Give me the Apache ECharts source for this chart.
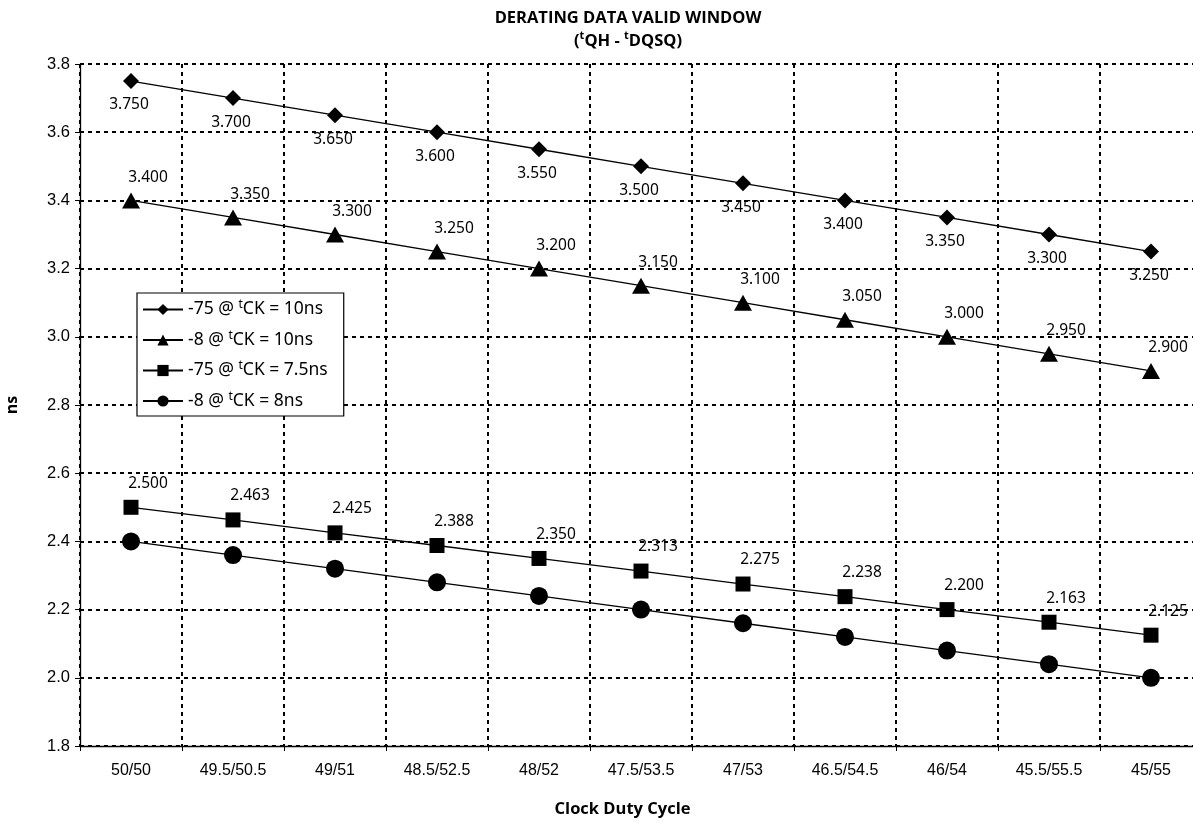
<!DOCTYPE html>
<html>
<head>
<meta charset="utf-8">
<script src="https://cdn.jsdelivr.net/npm/echarts@6/dist/echarts.min.js"></script>
<style>html,body{margin:0;padding:0;background:#fff;}#c{width:1193px;height:823px;}</style>
</head>
<body>
<div id="c"></div>
<script>
const categories = ['50/50','49.5/50.5','49/51','48.5/52.5','48/52','47.5/53.5','47/53','46.5/54.5','46/54','45.5/55.5','45/55'];
const s75_10 = [3.750,3.700,3.650,3.600,3.550,3.500,3.450,3.400,3.350,3.300,3.250];
const s8_10 = [3.400,3.350,3.300,3.250,3.200,3.150,3.100,3.050,3.000,2.950,2.900];
const s75_75 = [2.500,2.463,2.425,2.388,2.350,2.313,2.275,2.238,2.200,2.163,2.125];
const s8_8 = [2.40,2.36,2.32,2.28,2.24,2.20,2.16,2.12,2.08,2.04,2.00];
const seriesNames = ['-75 @ {sup|t}CK = 10ns','-8 @ {sup|t}CK = 10ns','-75 @ {sup|t}CK = 7.5ns','-8 @ {sup|t}CK = 8ns'];

const chart = echarts.init(document.getElementById('c'));
const labelFont = {fontFamily:'Noto Sans', fontSize:15.5, color:'#000'};
function mk(name, data, symbol, size, label) {
  return {
    name, type:'line', data, symbol, symbolSize:size,
    lineStyle:{color:'#000', width:1.3},
    itemStyle:{color:'#000'},
    label: label ? Object.assign({show:true, position:'inside', formatter:p=>p.value.toFixed(3)}, labelFont, label) : {show:false},
    emphasis:{disabled:true}, animation:false, z:3
  };
}
chart.setOption({
  animation:false,
  title:{
    text:'DERATING DATA VALID WINDOW\n({sup|t}QH - {sup|t}DQSQ)',
    left:623, top:2, textAlign:'center',
    textStyle:{fontFamily:'Open Sans', fontWeight:'bold', fontSize:16.5, color:'#000', lineHeight:23,
      rich:{sup:{fontFamily:'Open Sans', fontWeight:'bold', fontSize:11, color:'#000', verticalAlign:'top', lineHeight:23, padding:[0,0,7,0]}}}
  },
  legend:{
    orient:'vertical', left:137, top:293,
    backgroundColor:'#fff', borderColor:'#000', borderWidth:1.2,
    padding:[6,16,6,5], itemGap:11, itemWidth:40, itemHeight:14,
    textStyle:{fontFamily:'Noto Sans', fontSize:17.5, color:'#000',
      rich:{sup:{fontFamily:'Noto Sans', fontSize:12, color:'#000', verticalAlign:'top', padding:[0,0,9,0]}}},
    data: seriesNames
  },
  grid:{left:80, top:64, width:1122, height:682, containLabel:false, outerBoundsMode:'none'},
  xAxis:{
    type:'category', data:categories, boundaryGap:true,
    name:'Clock Duty Cycle', nameLocation:'middle', nameGap:55,
    nameTextStyle:{fontFamily:'Open Sans', fontWeight:'bold', fontSize:16.5, color:'#000', padding:[0,0,0,-37]},
    axisLine:{lineStyle:{color:'#000', width:1.3}},
    axisTick:{show:true, length:5, lineStyle:{color:'#000'}},
    axisLabel:{fontFamily:'Liberation Sans', fontSize:16, color:'#000', margin:17},
    splitLine:{show:true, lineStyle:{color:'#000', type:[4,4], width:2}}
  },
  yAxis:{
    type:'value', min:1.8, max:3.8, interval:0.2,
    name:'ns', nameLocation:'middle', nameGap:60, nameRotate:90,
    nameTextStyle:{fontFamily:'Open Sans', fontWeight:'bold', fontSize:16, color:'#000'},
    axisLine:{show:true, lineStyle:{color:'#000', width:1.3}},
    axisTick:{show:true, length:5, lineStyle:{color:'#000'}},
    axisLabel:{fontFamily:'Liberation Sans', fontSize:16.5, color:'#000', margin:10, formatter:v=>v.toFixed(1)},
    splitLine:{show:true, lineStyle:{color:'#000', type:[4,4], width:2}}
  },
  series:[
    mk(seriesNames[0], s75_10, 'diamond', [16,16], {offset:[-2,24]}),
    mk(seriesNames[1], s8_10, 'triangle', [18,16], {offset:[17,-23]}),
    mk(seriesNames[2], s75_75, 'rect', [15,15], {offset:[17,-24]}),
    mk(seriesNames[3], s8_8, 'circle', 18, null)
  ]
});
</script>
</body>
</html>
